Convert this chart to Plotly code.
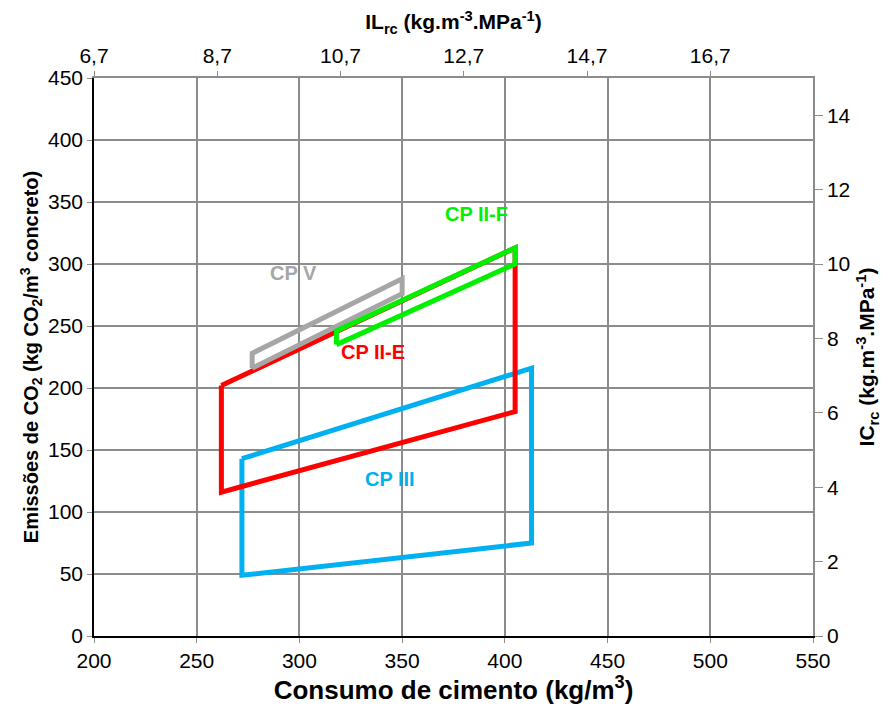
import plotly.graph_objects as go

# Polygon vertices (cement consumption kg/m3, CO2 kg/m3)
cpv_x = [277, 277, 350, 350, 277]
cpv_y = [216, 228, 288, 276, 216]

cp2e_x = [262, 405, 405, 262, 262]
cp2e_y = [202, 313, 181, 116, 202]

cp2f_x = [318, 318, 405, 405, 318]
cp2f_y = [235, 246, 313, 300, 235]

cp3_x = [272, 413, 413, 272, 272]
cp3_y = [143, 216, 75, 49, 143]

series = [
    ("CP III", cp3_x, cp3_y, "#00B0F0"),
    ("CP II-E", cp2e_x, cp2e_y, "#FF0000"),
    ("CP V", cpv_x, cpv_y, "#A6A6A6"),
    ("CP II-F", cp2f_x, cp2f_y, "#00F000"),
]

x_ticks = [200, 250, 300, 350, 400, 450, 500, 550]
y_ticks = [0, 50, 100, 150, 200, 250, 300, 350, 400, 450]
il_ticks = [6.7, 8.7, 10.7, 12.7, 14.7, 16.7]
il_labels = ["6,7", "8,7", "10,7", "12,7", "14,7", "16,7"]
ic_ticks = [0, 2, 4, 6, 8, 10, 12, 14]

FONT = "Liberation Sans, Arial, sans-serif"

fig = go.Figure()
for name, xs, ys, col in series:
    fig.add_trace(go.Scatter(x=xs, y=ys, mode="lines", name=name,
                             line=dict(color=col, width=5),
                             showlegend=False, hoverinfo="skip"))

# invisible trace for secondary axes
fig.add_trace(go.Scatter(x=[6.7], y=[0], xaxis="x2", yaxis="y2", mode="markers",
                         marker=dict(opacity=0), showlegend=False, hoverinfo="skip"))

labels = [
    ("CP V", 297, 293, "#A6A6A6"),
    ("CP II-F", 386, 340, "#00F000"),
    ("CP II-E", 336, 229, "#FF0000"),
    ("CP III", 344, 127, "#00B0F0"),
]
for txt, lx, ly, col in labels:
    fig.add_annotation(x=lx, y=ly, text="<b>%s</b>" % txt, showarrow=False,
                       font=dict(family=FONT, size=20, color=col))

grid = "#8C8C8C"
tickfont = dict(family=FONT, size=21, color="black")
fig.update_layout(
    width=893, height=713,
    margin=dict(l=94, r=80, t=78, b=77),
    paper_bgcolor="white", plot_bgcolor="white",
    font=dict(family=FONT, size=20, color="black"),
    xaxis=dict(range=[200, 550], tickvals=x_ticks, showgrid=True, gridcolor=grid,
               gridwidth=1.5, zeroline=False, showline=True, linecolor="black",
               linewidth=2, ticks="outside", ticklen=5, tickcolor=grid,
               automargin=False, tickfont=tickfont,
               title=dict(text="<b>Consumo de cimento (kg/m<sup>3</sup>)</b>",
                          font=dict(size=26), standoff=6)),
    yaxis=dict(range=[0, 450], tickvals=y_ticks, showgrid=True, gridcolor=grid,
               gridwidth=1.5, zeroline=False, showline=True, linecolor="black",
               linewidth=1.5, ticks="outside", ticklen=5, tickcolor=grid,
               automargin=False, tickfont=tickfont,
               title=dict(text="<b>Emissões de CO<sub>2</sub> (kg CO<sub>2</sub>/m<sup>3</sup> concreto)</b>",
                          font=dict(size=20), standoff=4)),
    xaxis2=dict(range=[6.7, 6.7 + 350 / 30], overlaying="x", side="top",
                tickvals=il_ticks, ticktext=il_labels, showgrid=False,
                zeroline=False, showline=True, linecolor=grid, linewidth=1.5,
                ticks="outside", ticklen=5, tickcolor=grid, automargin=False,
                tickfont=tickfont,
                title=dict(text="<b>IL<sub>rc</sub> (kg.m<sup>-3</sup>.MPa<sup>-1</sup>)</b>",
                           font=dict(size=21), standoff=8)),
    yaxis2=dict(range=[0, 15], overlaying="y", side="right", tickvals=ic_ticks,
                showgrid=False, zeroline=False, showline=True, linecolor=grid,
                linewidth=1.5, ticks="outside", ticklen=8, tickcolor=grid,
                automargin=False, tickfont=tickfont,
                title=dict(text="<b>IC<sub>rc</sub> (kg.m<sup>-3</sup>.MPa<sup>-1</sup>)</b>",
                           font=dict(size=21), standoff=10)),
)

fig.write_html("out.html")
